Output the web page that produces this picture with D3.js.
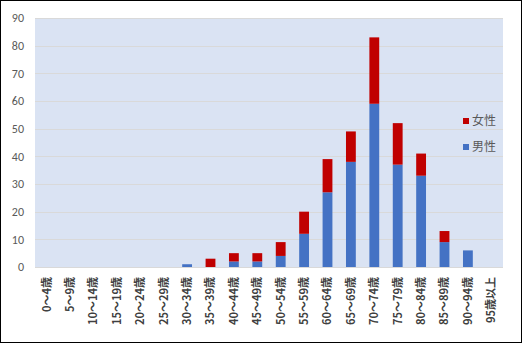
<!DOCTYPE html>
<html>
<head>
<meta charset="utf-8">
<script src="https://cdn.jsdelivr.net/npm/d3@7"></script>
<style>
  html, body { margin: 0; padding: 0; background: #fff; }
  svg { display: block; }
</style>
</head>
<body>
<svg id="chart" width="523" height="344"></svg>
<script>
// Age groups and counts by sex
const ageGroups = ["0～4歳","5～9歳","10～14歳","15～19歳","20～24歳","25～29歳","30～34歳","35～39歳","40～44歳","45～49歳","50～54歳","55～59歳","60～64歳","65～69歳","70～74歳","75～79歳","80～84歳","85～89歳","90～94歳","95歳以上"];
const male   = [0,0,0,0,0,0,1,0,2,2,4,12,27,38,59,37,33,9,6,0];
const female = [0,0,0,0,0,0,0,3,3,3,5,8,12,11,24,15,8,4,0,0];
const yTicks = [0,10,20,30,40,50,60,70,80,90];
const seriesNames = ["男性","女性"];
const seriesColors = ["#4472c4","#c00000"];

const svg = d3.select("#chart");
const W = 523, H = 344;
const plot = { left: 35, right: 503, top: 18, bottom: 267 };

svg.append("rect").attr("x", 0).attr("y", 0).attr("width", W).attr("height", H).attr("fill", "#fff");

const x = d3.scaleBand().domain(ageGroups).range([plot.left, plot.right]).paddingInner(0.58).paddingOuter(0.29);
const y = d3.scaleLinear().domain([0, 90]).range([plot.bottom, plot.top]);

// plot background
svg.append("rect")
  .attr("x", plot.left).attr("y", plot.top)
  .attr("width", plot.right - plot.left).attr("height", plot.bottom - plot.top)
  .attr("fill", "#dae3f3");

// gridlines
svg.append("g").selectAll("line").data(yTicks).join("line")
  .attr("x1", plot.left).attr("x2", plot.right)
  .attr("y1", d => Math.round(y(d)) + 0.5).attr("y2", d => Math.round(y(d)) + 0.5)
  .attr("stroke", "#d9d9d9").attr("stroke-width", 1);

// y axis labels
const yAxis = d3.axisLeft(y).tickValues(yTicks).tickSize(0).tickPadding(11);
const gy = svg.append("g").attr("transform", `translate(${plot.left},0)`).call(yAxis);
gy.select(".domain").remove();
gy.selectAll("text")
  .attr("fill", "#595959")
  .style("font-family", "Calibri, 'Liberation Sans', Arial, sans-serif")
  .style("font-size", "12px");

// stacked bars
const rows = ageGroups.map((g, i) => ({ group: g, "男性": male[i], "女性": female[i] }));
const stack = d3.stack().keys(seriesNames)(rows);
svg.append("g").selectAll("g").data(stack).join("g")
  .attr("fill", (d, i) => seriesColors[i])
  .selectAll("rect").data(d => d).join("rect")
  .attr("x", d => x(d.data.group))
  .attr("width", x.bandwidth())
  .attr("y", d => y(d[1]))
  .attr("height", d => y(d[0]) - y(d[1]));

// x axis labels, rotated
const xAxis = d3.axisBottom(x).tickSize(0).tickPadding(0);
const gx = svg.append("g").attr("transform", `translate(0,${plot.bottom})`).call(xAxis);
gx.select(".domain").remove();
gx.selectAll("text")
  .attr("transform", "rotate(-90)")
  .attr("x", -10).attr("y", 0).attr("dy", "0.35em")
  .attr("text-anchor", "end")
  .attr("fill", "#404040")
  .style("font-family", "'Noto Sans CJK JP', sans-serif")
  .style("font-weight", "bold")
  .style("font-size", "11px");

// legend
const legend = svg.append("g");
const legendItems = [
  { name: "女性", color: seriesColors[1], cy: 121 },
  { name: "男性", color: seriesColors[0], cy: 147 }
];
legendItems.forEach(it => {
  legend.append("rect").attr("x", 463).attr("y", it.cy - 3).attr("width", 6).attr("height", 6).attr("fill", it.color);
  legend.append("text").attr("x", 472).attr("y", it.cy).attr("dy", "0.35em")
    .attr("fill", "#595959")
    .style("font-family", "'Noto Sans CJK JP', sans-serif")
    .style("font-size", "12px")
    .text(it.name);
});

// outer frame
svg.append("rect").attr("x", 0.5).attr("y", 0.5).attr("width", W - 2).attr("height", H - 2)
  .attr("fill", "none").attr("stroke", "#000").attr("stroke-width", 1);
</script>
</body>
</html>
